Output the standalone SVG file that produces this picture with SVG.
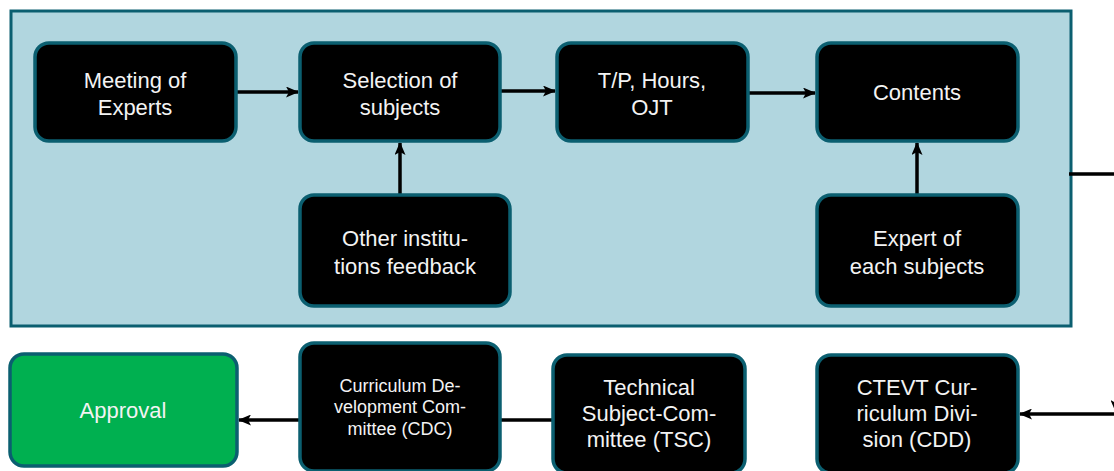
<svg xmlns="http://www.w3.org/2000/svg" width="1114" height="471" viewBox="0 0 1114 471">
<defs>
<marker id="ah" viewBox="0 0 13 11" refX="12" refY="5.5" markerWidth="13" markerHeight="11" markerUnits="userSpaceOnUse" orient="auto">
<path d="M0,0 L13,5.5 L0,11 L3,5.5 Z" fill="#000"/>
</marker>
<style>
.box{fill:#000;stroke:#0b5f70;stroke-width:3.5}
.t{font-family:"Liberation Sans",Arial,sans-serif;font-size:22px;fill:#f3f3f3;text-anchor:middle}
.s{font-size:18px}
.c{fill:none;stroke:#000;stroke-width:3.5}
</style>
</defs>
<rect width="1114" height="471" fill="#fff"/>
<g id="container">
<rect x="11" y="11" width="1060" height="315" fill="#b1d6df" stroke="#0b5f70" stroke-width="3"/>
</g>
<g id="connectors">
<line class="c" x1="236" y1="92" x2="298" y2="92" marker-end="url(#ah)"/>
<line class="c" x1="500" y1="91" x2="555" y2="91" marker-end="url(#ah)"/>
<line class="c" x1="748" y1="93" x2="815" y2="93" marker-end="url(#ah)"/>
<line class="c" x1="400" y1="195" x2="400" y2="143" marker-end="url(#ah)"/>
<line class="c" x1="917" y1="195" x2="917" y2="143" marker-end="url(#ah)"/>
<line class="c" x1="300" y1="420" x2="239" y2="420" marker-end="url(#ah)"/>
<line class="c" x1="553" y1="420" x2="500" y2="420"/>
<polyline class="c" points="1069,174 1116,174 1116,412" marker-end="url(#ah)"/>
<line class="c" x1="1114" y1="414" x2="1020" y2="414" marker-end="url(#ah)"/>
</g>
<g id="n1"><rect class="box" x="35" y="43" width="201" height="98" rx="14"/>
<text class="t" x="135" y="88">Meeting of</text><text class="t" x="135" y="115">Experts</text></g>
<g id="n2"><rect class="box" x="300" y="43" width="200" height="98" rx="14"/>
<text class="t" x="400" y="88">Selection of</text><text class="t" x="400" y="115">subjects</text></g>
<g id="n3"><rect class="box" x="557" y="43" width="191" height="98" rx="14"/>
<text class="t" x="652" y="88">T/P, Hours,</text><text class="t" x="652" y="115">OJT</text></g>
<g id="n4"><rect class="box" x="817" y="43" width="201" height="98" rx="14"/>
<text class="t" x="917" y="100">Contents</text></g>
<g id="n5"><rect class="box" x="300" y="195" width="210" height="111" rx="14"/>
<text class="t" x="405" y="246">Other institu-</text><text class="t" x="405" y="274">tions feedback</text></g>
<g id="n6"><rect class="box" x="817" y="195" width="201" height="111" rx="14"/>
<text class="t" x="917" y="246">Expert of</text><text class="t" x="917" y="274">each subjects</text></g>
<g id="n7"><rect x="10" y="354" width="227" height="112" rx="14" fill="#00b050" stroke="#0b5f70" stroke-width="3.5"/>
<text class="t" x="123" y="418">Approval</text></g>
<g id="n8"><rect class="box" x="300" y="343" width="200" height="128" rx="14"/>
<text class="t s" x="400" y="392">Curriculum De-</text><text class="t s" x="400" y="413">velopment Com-</text><text class="t s" x="400" y="435">mittee (CDC)</text></g>
<g id="n9"><rect class="box" x="553" y="355" width="192" height="118" rx="14"/>
<text class="t" x="649" y="395">Technical</text><text class="t" x="649" y="421">Subject-Com-</text><text class="t" x="649" y="447">mittee (TSC)</text></g>
<g id="n10"><rect class="box" x="817" y="355" width="201" height="118" rx="14"/>
<text class="t" x="917" y="395">CTEVT Cur-</text><text class="t" x="917" y="421">riculum Divi-</text><text class="t" x="917" y="447">sion (CDD)</text></g>
</svg>
